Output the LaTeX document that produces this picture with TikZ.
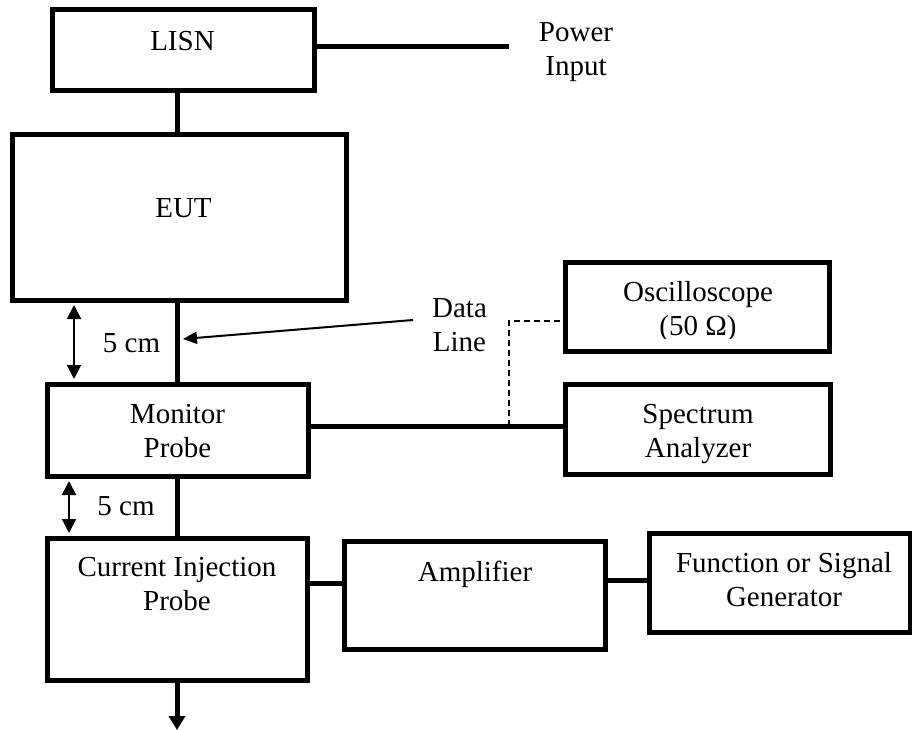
\documentclass[tikz,border=0pt]{standalone}
\usepackage{fontspec}
\setmainfont{Liberation Serif}
\usetikzlibrary{arrows.meta}
\begin{document}
\begin{tikzpicture}[x=1pt,y=-1pt,
  box/.style={draw, line width=5pt, inner sep=0pt},
  txt/.style={align=center, inner sep=0pt, font=\fontsize{29}{34}\selectfont},
  conn/.style={line width=5pt},
  thin/.style={line width=2pt},
  dimarrow/.style={line width=2pt, {Triangle[length=14pt,width=14pt]}-{Triangle[length=14pt,width=14pt]}, shorten <=2.5pt, shorten >=2.5pt},
  ptr/.style={line width=2pt, -{Triangle[length=14pt,width=12pt]}},
  dashline/.style={line width=2pt, dash pattern=on 6pt off 4pt}
]
\useasboundingbox (0,0) rectangle (912,730);

% boxes
\node[box, minimum width=262pt, minimum height=81pt] (lisn) at (183,50.5) {};
\node[box, minimum width=334pt, minimum height=165pt] (eut) at (179,217.5) {};
\node[box, minimum width=261pt, minimum height=92pt] (mon) at (177.5,430) {};
\node[box, minimum width=264pt, minimum height=89pt] (osc) at (697,306.5) {};
\node[box, minimum width=265pt, minimum height=90pt] (spec) at (697.5,429) {};
\node[box, minimum width=260pt, minimum height=142pt] (cip) at (177,609) {};
\node[box, minimum width=261pt, minimum height=108pt] (amp) at (474.5,595) {};
\node[box, minimum width=261pt, minimum height=99pt] (func) at (779.5,582.5) {};

% texts
\node[txt] (lisnT) at (182.5,41) {LISN};
\node[txt] (pwrT) at (576,52) {Power\\Input};
\node[txt] (eutT) at (183.5,208) {EUT};
\node[txt] (monT) at (177.5,431) {Monitor\\Probe};
\node[txt] (specT) at (698,434) {Spectrum\\Analyzer};
\begin{scope}
  \clip (565,262) rectangle (829,338);
  \node[txt] (oscT) at (698,311.5) {Oscilloscope\\(50 Ω)};
\end{scope}
\node[txt] (dataT) at (459.5,325) {Data\\Line};
\node[txt] (cm1) at (131.5,343.5) {5 cm};
\node[txt] (cm2) at (126,506) {5 cm};
\node[txt] (cipT) at (177,583.7) {Current Injection\\Probe};
\node[txt] (ampT) at (475,574) {Amplifier};
\node[txt] (funcT) at (784,580) {Function or Signal\\Generator};

% coordinates
\coordinate (pwr) at (509,47);
\coordinate (dtail) at (413,320);
\coordinate (dtip) at (183,339);
\coordinate (d1) at (74,0);
\coordinate (d2) at (69,0);
\coordinate (jn) at (509,426);
\coordinate (oscin) at (565,321);
\coordinate (ca) at (0,583);
\coordinate (af) at (0,580);
\coordinate (out) at (177,730);

% connectors
\draw[conn] (lisn.east |- pwr) -- (pwr);
\draw[conn] (lisn.south -| mon.north) -- (eut.north -| mon.north);
\draw[conn] (eut.south -| mon.north) -- (mon.north);
\draw[conn] (mon.south) -- (cip.north -| mon.south);
\draw[conn] (mon.east |- jn) -- (spec.west |- jn);
\draw[dashline] (jn) |- (oscin);
\draw[conn] (cip.east |- ca) -- (amp.west |- ca);
\draw[conn] (amp.east |- af) -- (func.west |- af);
\draw[conn, -{Triangle[length=14pt,width=16pt]}] (cip.south) -- (out);
\draw[ptr] (dtail) -- (dtip);
\draw[dimarrow] (eut.south -| d1) -- (mon.north -| d1);
\draw[dimarrow] (mon.south -| d2) -- (cip.north -| d2);
\end{tikzpicture}
\end{document}
